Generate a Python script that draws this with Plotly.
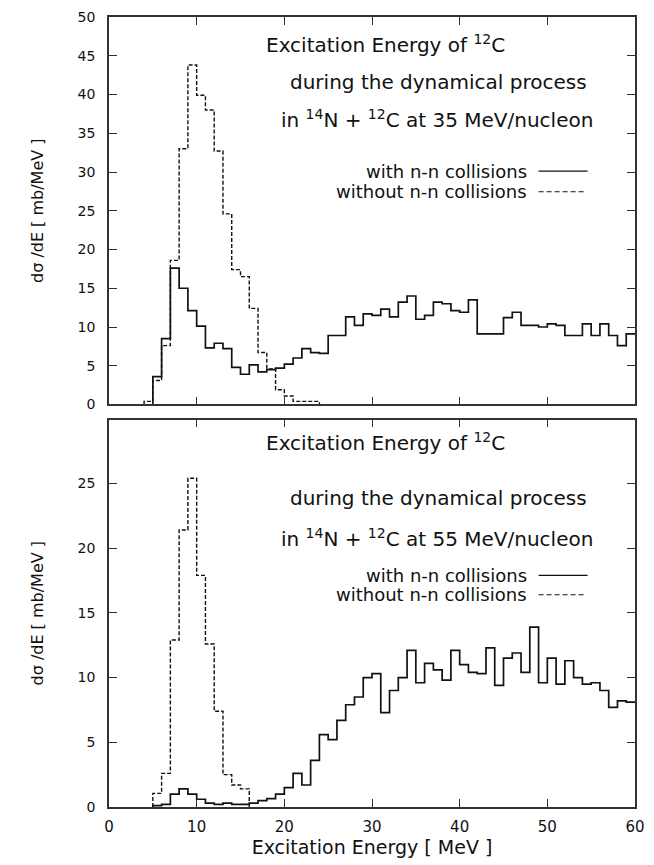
import plotly.graph_objects as go

# ---------------- data (1 MeV bins, value per bin) ----------------
# Top panel: 14N + 12C at 35 MeV/nucleon
top_with_lo = list(range(5, 60))
top_with = [3.6, 8.5, 17.6, 15.0, 12.1, 10.1, 7.3, 7.9, 7.2, 4.8,
            3.9, 5.1, 4.2, 4.5, 4.7, 5.2, 6.0, 7.2, 6.7, 6.6,
            8.9, 8.9, 11.3, 10.2, 11.7, 11.5, 12.3, 11.3, 13.2, 14.0,
            11.0, 11.5, 13.2, 13.0, 12.1, 11.9, 13.5, 9.1, 9.1, 9.1,
            11.2, 11.9, 10.2, 10.2, 10.0, 10.4, 10.2, 8.9, 8.9, 10.4,
            8.9, 10.4, 8.9, 7.6, 9.1]
top_without_lo = list(range(4, 24))
top_without = [0.4, 3.1, 7.6, 18.6, 33.0, 43.8, 39.9, 38.0, 32.7, 24.6,
               17.4, 16.5, 12.4, 6.7, 4.6, 1.9, 1.1, 0.4, 0.4, 0.4]

# Bottom panel: 14N + 12C at 55 MeV/nucleon
bot_with_lo = list(range(5, 60))
bot_with = [0.1, 0.2, 1.0, 1.4, 1.0, 0.6, 0.3, 0.2, 0.3, 0.2,
            0.2, 0.3, 0.5, 0.65, 1.0, 1.5, 2.6, 1.7, 3.6, 5.6,
            5.2, 6.7, 7.9, 8.5, 10.0, 10.3, 7.3, 9.0, 10.0, 12.1,
            9.6, 11.1, 10.6, 9.8, 12.1, 11.0, 10.4, 10.3, 12.3, 9.4,
            11.5, 11.9, 10.4, 13.9, 9.6, 11.5, 9.5, 11.3, 10.0, 9.5,
            9.6, 9.0, 7.7, 8.2, 8.1]
bot_without_lo = list(range(5, 16))
bot_without = [1.05, 2.6, 12.9, 21.4, 25.4, 17.9, 12.6, 7.4, 2.5, 1.7, 1.4]

x_ticks = [0, 10, 20, 30, 40, 50, 60]
top_y_ticks = [0, 5, 10, 15, 20, 25, 30, 35, 40, 45, 50]
bot_y_ticks = [0, 5, 10, 15, 20, 25]

FONT = "DejaVu Sans"
INK = "#111111"
FRAME = "#333333"


def step_xy(lo, vals, width=1.0, close=True):
    xs = [lo[0]] + list(lo) + [lo[-1] + width]
    ys = [0] + list(vals) + [vals[-1]]
    if close:
        xs.append(lo[-1] + width)
        ys.append(0)
    return xs, ys


fig = go.Figure()

sx, sy = step_xy(top_with_lo, top_with, close=False)
fig.add_trace(go.Scatter(x=sx, y=sy, mode="lines", line_shape="hv",
                         line=dict(color=INK, width=1.7), xaxis="x2", yaxis="y2",
                         name="with n-n collisions", showlegend=False))
sx, sy = step_xy(top_without_lo, top_without)
fig.add_trace(go.Scatter(x=sx, y=sy, mode="lines", line_shape="hv",
                         line=dict(color=INK, width=1.4, dash="4px,2px"), xaxis="x2", yaxis="y2",
                         name="without n-n collisions", showlegend=False))
sx, sy = step_xy(bot_with_lo, bot_with, close=False)
fig.add_trace(go.Scatter(x=sx, y=sy, mode="lines", line_shape="hv",
                         line=dict(color=INK, width=1.7), xaxis="x", yaxis="y",
                         name="with n-n collisions", showlegend=False))
sx, sy = step_xy(bot_without_lo, bot_without)
fig.add_trace(go.Scatter(x=sx, y=sy, mode="lines", line_shape="hv",
                         line=dict(color=INK, width=1.4, dash="4px,2px"), xaxis="x", yaxis="y",
                         name="without n-n collisions", showlegend=False))

axis_common = dict(showline=True, linecolor=FRAME, linewidth=1.6, mirror="ticks",
                   ticks="inside", ticklen=8, tickwidth=1.3, tickcolor=FRAME,
                   showgrid=False, zeroline=False)

fig.update_layout(
    width=654, height=865,
    margin=dict(l=109, r=9, t=16, b=58),
    paper_bgcolor="white", plot_bgcolor="white",
    font=dict(family=FONT, color=INK),
    showlegend=False,
    xaxis=dict(domain=[0, 1], range=[0, 60], anchor="y", tickvals=x_ticks,
               tickfont=dict(size=15), ticklabelstandoff=5,
               title=dict(text="Excitation Energy [ MeV ]", font=dict(size=19), standoff=6),
               **axis_common),
    xaxis2=dict(domain=[0, 1], range=[0, 60], anchor="y2", tickvals=x_ticks,
                showticklabels=False, **axis_common),
    yaxis=dict(domain=[0, 0.4905], range=[0, 29.94], anchor="x", tickvals=bot_y_ticks,
               tickfont=dict(size=14), ticklabelstandoff=9,
               title=dict(text="dσ /dE [ mb/MeV ]", font=dict(size=16), standoff=30),
               **axis_common),
    yaxis2=dict(domain=[0.5095, 1], range=[0, 50], anchor="x2", tickvals=top_y_ticks,
                tickfont=dict(size=14), ticklabelstandoff=9,
                title=dict(text="dσ /dE [ mb/MeV ]", font=dict(size=16), standoff=30),
                **axis_common),
)

ann_font = dict(family=FONT, size=20, color=INK)
leg_font = dict(family=FONT, size=18, color=INK)
panels = [
    ("x2", "y2", "35", [46.5, 41.6, 36.9, 30.1, 27.45]),
    ("x", "y", "55", [28.2, 23.9, 20.8, 17.9, 16.4]),
]
for xr, yr, energy, ys in panels:
    fig.add_annotation(x=31.5, y=ys[0], xref=xr, yref=yr, showarrow=False,
                       text="Excitation Energy of <sup>12</sup>C", font=ann_font,
                       xanchor="center", yanchor="middle")
    fig.add_annotation(x=37.6, y=ys[1], xref=xr, yref=yr, showarrow=False,
                       text="during the dynamical process", font=ann_font,
                       xanchor="center", yanchor="middle")
    fig.add_annotation(x=37.4, y=ys[2], xref=xr, yref=yr, showarrow=False,
                       text="in <sup>14</sup>N + <sup>12</sup>C at %s MeV/nucleon" % energy,
                       font=ann_font, xanchor="center", yanchor="middle")
    fig.add_annotation(x=47.9, y=ys[3], xref=xr, yref=yr, showarrow=False,
                       text="with n-n collisions", font=leg_font,
                       xanchor="right", yanchor="middle")
    fig.add_annotation(x=47.9, y=ys[4], xref=xr, yref=yr, showarrow=False,
                       text="without n-n collisions", font=leg_font,
                       xanchor="right", yanchor="middle")
    # legend key samples
    fig.add_shape(type="line", xref=xr, yref=yr, x0=49.0, x1=54.6, y0=ys[3], y1=ys[3],
                  line=dict(color=INK, width=1.2))
    fig.add_shape(type="line", xref=xr, yref=yr, x0=49.0, x1=54.2, y0=ys[4], y1=ys[4],
                  line=dict(color=INK, width=1.2, dash="5px,3px"))

fig.write_html("out.html")
